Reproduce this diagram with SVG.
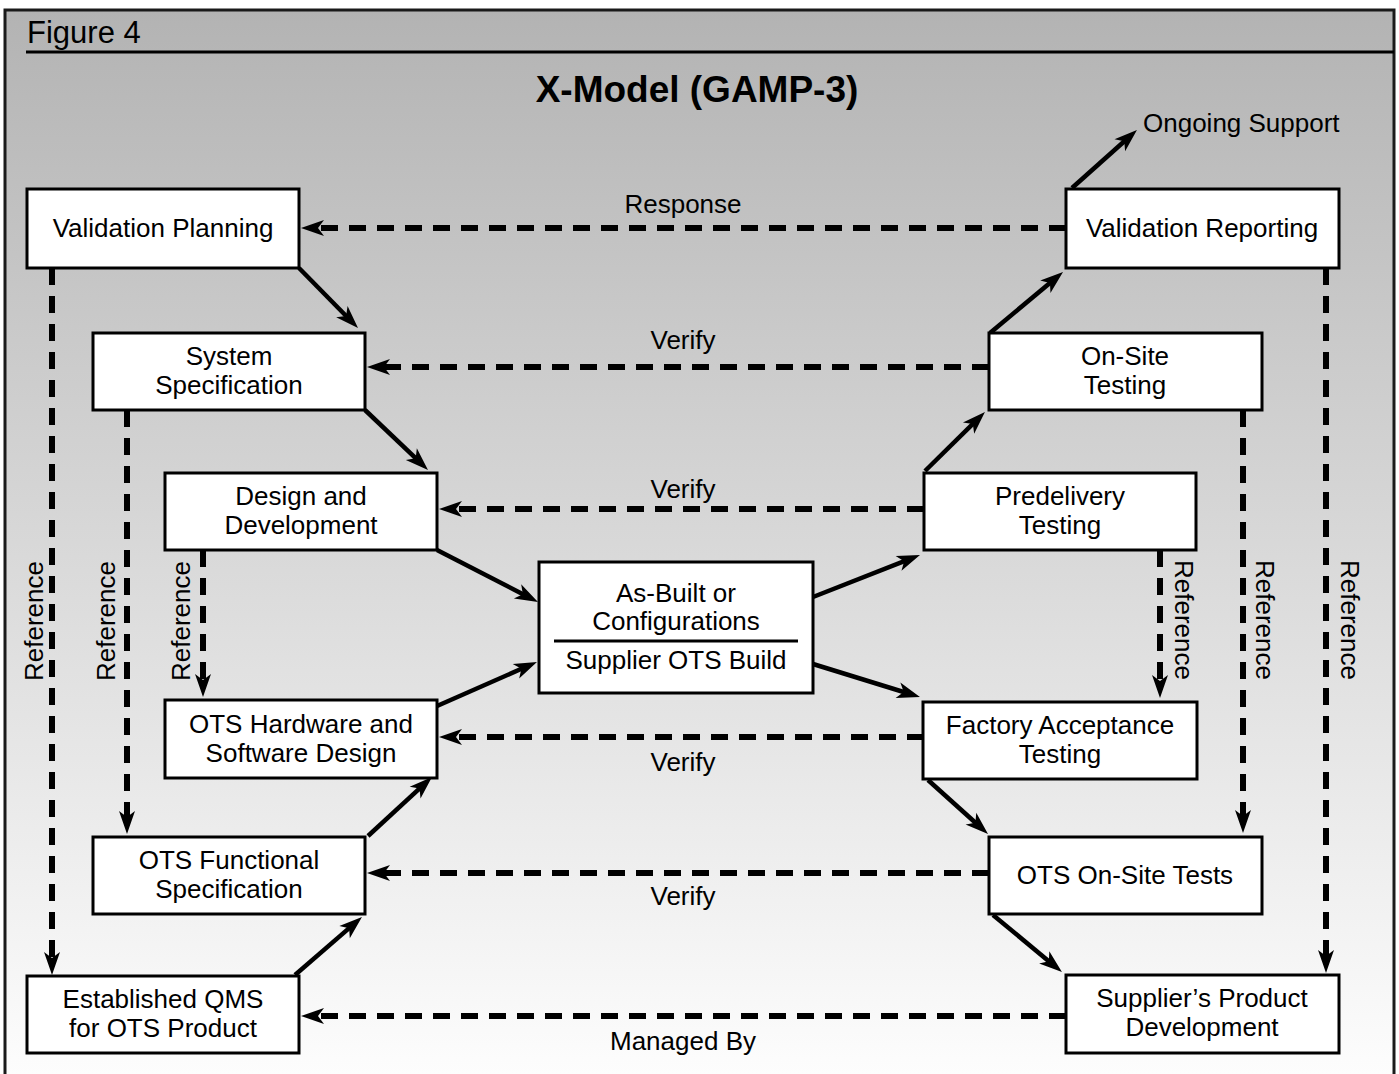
<svg xmlns="http://www.w3.org/2000/svg" width="1399" height="1074" viewBox="0 0 1399 1074">
  <defs>
    <linearGradient id="bg" x1="0" y1="10" x2="0" y2="1074" gradientUnits="userSpaceOnUse">
      <stop offset="0" stop-color="#b3b3b3"/>
      <stop offset="1" stop-color="#fdfdfd"/>
    </linearGradient>
    <!-- notched arrowhead; the tip sits 12px past the end of the line -->
    <marker id="arrow" markerUnits="userSpaceOnUse" viewBox="-12 -9 26 18" refX="0" refY="0" markerWidth="26" markerHeight="18" orient="auto" overflow="visible">
      <path d="M12,0 L-11,-8 L-5,0 L-11,8 Z" fill="#000"/>
    </marker>
    <style>
      .node rect { fill: #fff; stroke: #000; stroke-width: 3; }
      .lbl { font-family: "Liberation Sans", Arial, sans-serif; font-size: 26px; fill: #000; text-anchor: middle; }
      .flow { fill: none; stroke: #000; stroke-width: 4.5; marker-end: url(#arrow); }
      .dash { fill: none; stroke: #000; stroke-width: 6; stroke-dasharray: 17 11; marker-end: url(#arrow); }
    </style>
  </defs>

  <!-- frame and heading -->
  <rect x="0" y="0" width="1399" height="1074" fill="#fff"/>
  <rect x="5" y="10" width="1389" height="1080" fill="url(#bg)" stroke="#1a1a1a" stroke-width="3"/>
  <text x="27" y="43" font-family="Liberation Sans, Arial, sans-serif" font-size="31" fill="#000">Figure 4</text>
  <line x1="26" y1="52" x2="1394" y2="52" stroke="#000" stroke-width="3"/>
  <text x="697" y="102" font-family="Liberation Sans, Arial, sans-serif" font-size="37" font-weight="bold" text-anchor="middle" fill="#000">X-Model (GAMP-3)</text>

  <!-- connectors -->
  <g id="connectors">
    <!-- solid flow arrows -->
    <path class="flow" d="M299,268 L349.6,319.5"/>
    <path class="flow" d="M365,410 L419.3,461.7"/>
    <path class="flow" d="M437,550 L527.3,596.5"/>
    <path class="flow" d="M437,706 L526,666.8"/>
    <path class="flow" d="M368,836 L423.2,785.1"/>
    <path class="flow" d="M295,975 L352.9,924.9"/>
    <path class="flow" d="M813,597 L908.8,559.4"/>
    <path class="flow" d="M813,664 L908.5,693.5"/>
    <path class="flow" d="M925,471 L976.4,420.4"/>
    <path class="flow" d="M990,333 L1053.8,279.7"/>
    <path class="flow" d="M1072,188 L1128,138"/>
    <path class="flow" d="M928,780 L979.1,826"/>
    <path class="flow" d="M993,915 L1052.7,964.4"/>

    <!-- dashed horizontal links -->
    <path class="dash" d="M1066,228 L313,228"/>
    <path class="dash" d="M989,367 L379,367"/>
    <path class="dash" d="M924,509 L451,509"/>
    <path class="dash" d="M924,737 L451,737"/>
    <path class="dash" d="M989,873 L379,873"/>
    <path class="dash" d="M1066,1016 L313,1016"/>

    <!-- dashed vertical reference links -->
    <path class="dash" d="M52,268 L52,963"/>
    <path class="dash" d="M127,410 L127,822"/>
    <path class="dash" d="M203,550 L203,685"/>
    <path class="dash" d="M1160,550 L1160,686"/>
    <path class="dash" d="M1243,410 L1243,821"/>
    <path class="dash" d="M1326,268 L1326,961"/>

    <!-- connector labels -->
    <text class="lbl" x="683" y="213">Response</text>
    <text class="lbl" x="683" y="349">Verify</text>
    <text class="lbl" x="683" y="498">Verify</text>
    <text class="lbl" x="683" y="771">Verify</text>
    <text class="lbl" x="683" y="905">Verify</text>
    <text class="lbl" x="683" y="1050">Managed By</text>
    <text class="lbl" x="1143" y="132" style="text-anchor:start">Ongoing Support</text>

    <text class="lbl" transform="translate(43,621) rotate(-90)">Reference</text>
    <text class="lbl" transform="translate(115,621) rotate(-90)">Reference</text>
    <text class="lbl" transform="translate(190,621) rotate(-90)">Reference</text>
    <text class="lbl" transform="translate(1175,620) rotate(90)">Reference</text>
    <text class="lbl" transform="translate(1256,620) rotate(90)">Reference</text>
    <text class="lbl" transform="translate(1341,620) rotate(90)">Reference</text>
  </g>

  <!-- nodes -->
  <g id="validation-planning" class="node">
    <rect x="27" y="189" width="272" height="79"/>
    <text class="lbl" x="163" y="237">Validation Planning</text>
  </g>
  <g id="system-specification" class="node">
    <rect x="93" y="333" width="272" height="77"/>
    <text class="lbl" x="229" y="365">System</text>
    <text class="lbl" x="229" y="394">Specification</text>
  </g>
  <g id="design-development" class="node">
    <rect x="165" y="473" width="272" height="77"/>
    <text class="lbl" x="301" y="505">Design and</text>
    <text class="lbl" x="301" y="534">Development</text>
  </g>
  <g id="ots-hw-sw-design" class="node">
    <rect x="165" y="700" width="272" height="78"/>
    <text class="lbl" x="301" y="733">OTS Hardware and</text>
    <text class="lbl" x="301" y="762">Software Design</text>
  </g>
  <g id="ots-functional-spec" class="node">
    <rect x="93" y="837" width="272" height="77"/>
    <text class="lbl" x="229" y="869">OTS Functional</text>
    <text class="lbl" x="229" y="898">Specification</text>
  </g>
  <g id="established-qms" class="node">
    <rect x="27" y="976" width="272" height="77"/>
    <text class="lbl" x="163" y="1008">Established QMS</text>
    <text class="lbl" x="163" y="1037">for OTS Product</text>
  </g>
  <g id="validation-reporting" class="node">
    <rect x="1066" y="189" width="273" height="79"/>
    <text class="lbl" x="1202" y="237">Validation Reporting</text>
  </g>
  <g id="on-site-testing" class="node">
    <rect x="989" y="333" width="273" height="77"/>
    <text class="lbl" x="1125" y="365">On-Site</text>
    <text class="lbl" x="1125" y="394">Testing</text>
  </g>
  <g id="predelivery-testing" class="node">
    <rect x="924" y="473" width="272" height="77"/>
    <text class="lbl" x="1060" y="505">Predelivery</text>
    <text class="lbl" x="1060" y="534">Testing</text>
  </g>
  <g id="factory-acceptance" class="node">
    <rect x="923" y="702" width="274" height="77"/>
    <text class="lbl" x="1060" y="734">Factory Acceptance</text>
    <text class="lbl" x="1060" y="763">Testing</text>
  </g>
  <g id="ots-on-site-tests" class="node">
    <rect x="989" y="837" width="273" height="77"/>
    <text class="lbl" x="1125" y="884">OTS On-Site Tests</text>
  </g>
  <g id="supplier-product-dev" class="node">
    <rect x="1066" y="975" width="273" height="78"/>
    <text class="lbl" x="1202" y="1007">Supplier’s Product</text>
    <text class="lbl" x="1202" y="1036">Development</text>
  </g>
  <g id="as-built" class="node">
    <rect x="539" y="562" width="274" height="131"/>
    <text class="lbl" x="676" y="602">As-Built or</text>
    <text class="lbl" x="676" y="630">Configurations</text>
    <line x1="554" y1="641" x2="798" y2="641" stroke="#000" stroke-width="3"/>
    <text class="lbl" x="676" y="669">Supplier OTS Build</text>
  </g>
</svg>
